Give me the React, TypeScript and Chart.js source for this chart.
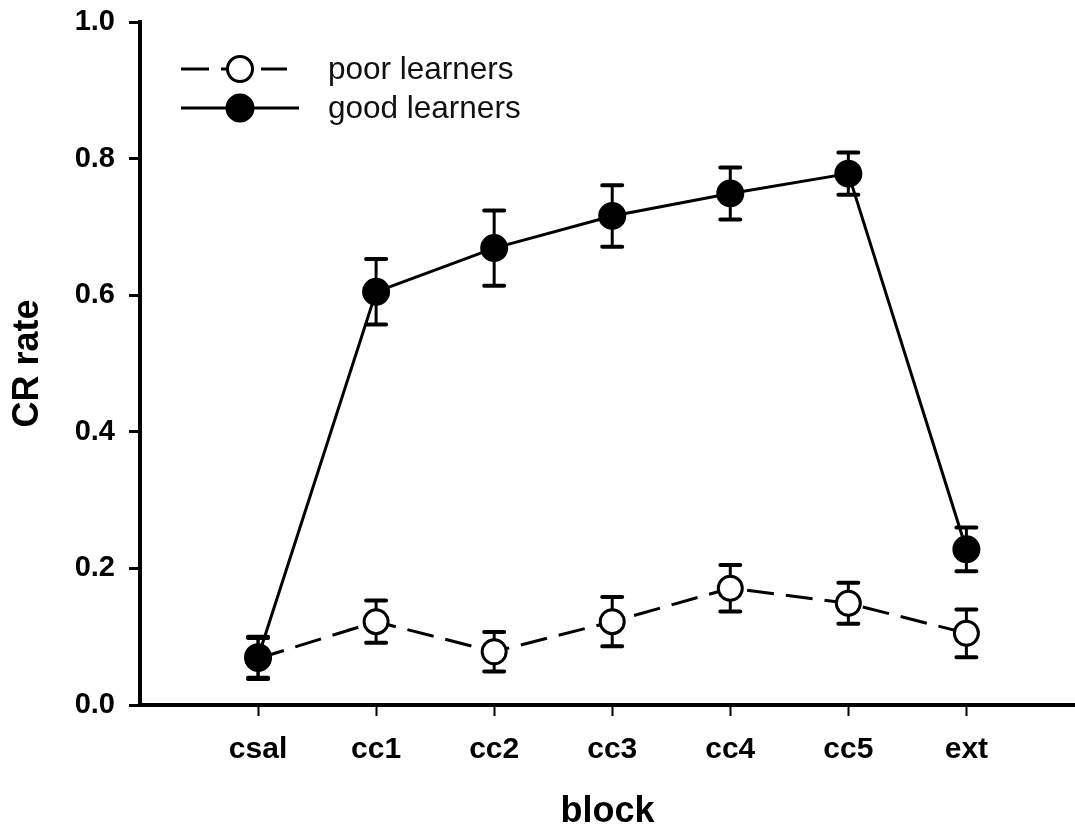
import React, { useEffect, useRef } from "react";
import { Chart, registerables } from "chart.js";

Chart.register(...registerables);

const categories = ["csal", "cc1", "cc2", "cc3", "cc4", "cc5", "ext"];
const poorValues = [0.068, 0.122, 0.078, 0.122, 0.171, 0.149, 0.105];
const poorErrors = [0.03, 0.031, 0.029, 0.036, 0.034, 0.03, 0.035];
const goodValues = [0.07, 0.605, 0.669, 0.716, 0.749, 0.778, 0.228];
const goodErrors = [0.03, 0.048, 0.055, 0.045, 0.038, 0.031, 0.032];
const yTicks = [0, 0.2, 0.4, 0.6, 0.8, 1.0];
const legendLabels = ["poor learners", "good learners"];

const FONT = "'Liberation Sans', Arial, Helvetica, sans-serif";

const errorBarPlugin = {
  id: "errorBars",
  beforeDatasetDraw(chart: any, args: any) {
    const ds = chart.data.datasets[args.index];
    const errs: number[] = ds.errors || [];
    const yScale = chart.scales.y;
    const ctx = chart.ctx;
    ctx.save();
    ctx.strokeStyle = "#000";
    args.meta.data.forEach((pt: any, i: number) => {
      const v = ds.data[i].y;
      const e = errs[i];
      const x = pt.x;
      const yTop = yScale.getPixelForValue(v + e);
      const yBot = yScale.getPixelForValue(v - e);
      ctx.lineWidth = 3;
      ctx.beginPath();
      ctx.moveTo(x, yTop);
      ctx.lineTo(x, yBot);
      ctx.stroke();
      ctx.lineWidth = 4;
      ctx.lineCap = "round";
      ctx.beginPath();
      ctx.moveTo(x - 10, yTop);
      ctx.lineTo(x + 10, yTop);
      ctx.moveTo(x - 10, yBot);
      ctx.lineTo(x + 10, yBot);
      ctx.stroke();
      ctx.lineCap = "butt";
    });
    ctx.restore();
  },
};

const legendPlugin = {
  id: "customLegend",
  afterDraw(chart: any) {
    const ctx = chart.ctx;
    const area = chart.chartArea;
    const x0 = area.left + 41;
    const rows = [
      { y: area.top + 47, dashed: true, len: 106, r: 12.5, fill: "#fff", bw: 3 },
      { y: area.top + 86, dashed: false, len: 118, r: 13.5, fill: "#000", bw: 2 },
    ];
    ctx.save();
    rows.forEach((row, i) => {
      ctx.strokeStyle = "#000";
      ctx.lineWidth = 3;
      ctx.setLineDash(row.dashed ? [28, 12] : []);
      ctx.beginPath();
      ctx.moveTo(x0, row.y);
      ctx.lineTo(x0 + row.len, row.y);
      ctx.stroke();
      ctx.setLineDash([]);
      const cx = x0 + 59;
      ctx.beginPath();
      ctx.arc(cx, row.y, row.r, 0, Math.PI * 2);
      ctx.fillStyle = row.fill;
      ctx.fill();
      ctx.lineWidth = row.bw;
      ctx.stroke();
      ctx.fillStyle = "#111";
      ctx.font = `31.5px ${FONT}`;
      ctx.textBaseline = "middle";
      ctx.textAlign = "left";
      ctx.fillText(legendLabels[i], area.left + 188, row.y + 1);
    });
    ctx.restore();
  },
};

export default function App() {
  const canvasRef = useRef<HTMLCanvasElement | null>(null);

  useEffect(() => {
    if (!canvasRef.current) return;
    const chart = new Chart(canvasRef.current, {
      type: "line",
      data: {
        datasets: [
          {
            label: legendLabels[0],
            data: poorValues.map((v, i) => ({ x: i, y: v })),
            errors: poorErrors,
            borderColor: "#000",
            borderWidth: 3,
            borderDash: [27, 12],
            pointRadius: 12,
            pointBorderWidth: 3,
            pointBackgroundColor: "#fff",
            pointBorderColor: "#000",
            tension: 0,
            order: 1,
          } as any,
          {
            label: legendLabels[1],
            data: goodValues.map((v, i) => ({ x: i, y: v })),
            errors: goodErrors,
            borderColor: "#000",
            borderWidth: 3,
            pointRadius: 13,
            pointBorderWidth: 2,
            pointBackgroundColor: "#000",
            pointBorderColor: "#000",
            tension: 0,
            order: 0,
          } as any,
        ],
      },
      options: {
        responsive: false,
        animation: false,
        layout: { autoPadding: false, padding: { top: 22, right: 0, left: 0, bottom: 0 } },
        plugins: {
          legend: { display: false },
          tooltip: { enabled: false },
        },
        scales: {
          x: {
            type: "linear",
            min: -1,
            max: 6.92,
            afterBuildTicks: (scale: any) => {
              scale.ticks = categories.map((_, i) => ({ value: i }));
            },
            afterFit: (scale: any) => {
              scale.height = 125;
              scale.paddingLeft = 0;
              scale.paddingRight = 0;
            },
            grid: {
              display: true,
              drawOnChartArea: false,
              drawTicks: true,
              tickLength: 11,
              tickColor: "#000",
              tickWidth: 2,
            },
            border: { display: true, color: "#000", width: 4 },
            ticks: {
              autoSkip: false,
              maxRotation: 0,
              padding: 16,
              color: "#000",
              font: { family: FONT, size: 30, weight: "bold" },
              callback: (v: any) => categories[v] ?? "",
            },
            title: {
              display: true,
              text: "block",
              color: "#000",
              font: { family: FONT, size: 36, weight: "bold", lineHeight: 1 },
              padding: { top: 0, bottom: 0 },
            },
          },
          y: {
            type: "linear",
            min: 0,
            max: 1,
            afterBuildTicks: (scale: any) => {
              scale.ticks = yTicks.map((v) => ({ value: v }));
            },
            afterFit: (scale: any) => {
              scale.width = 140;
              scale.paddingTop = 0;
              scale.paddingBottom = 0;
            },
            grid: {
              display: true,
              drawOnChartArea: false,
              drawTicks: true,
              tickLength: 11,
              tickColor: "#000",
              tickWidth: 3,
            },
            border: { display: true, color: "#000", width: 4 },
            ticks: {
              padding: 14,
              color: "#000",
              font: { family: FONT, size: 29, weight: "bold" },
              callback: (v: any) => Number(v).toFixed(1),
            },
            title: {
              display: true,
              text: "CR rate",
              color: "#000",
              font: { family: FONT, size: 36, weight: "bold", lineHeight: 1.2 },
              padding: { top: 6, bottom: 0 },
            },
          },
        },
      } as any,
      plugins: [errorBarPlugin, legendPlugin],
    });
    return () => chart.destroy();
  }, []);

  return (
    <div style={{ position: "absolute", left: 0, top: 0, width: 1075, height: 830, background: "#fff" }}>
      <canvas ref={canvasRef} width={1075} height={830} style={{ display: "block" }} />
    </div>
  );
}
